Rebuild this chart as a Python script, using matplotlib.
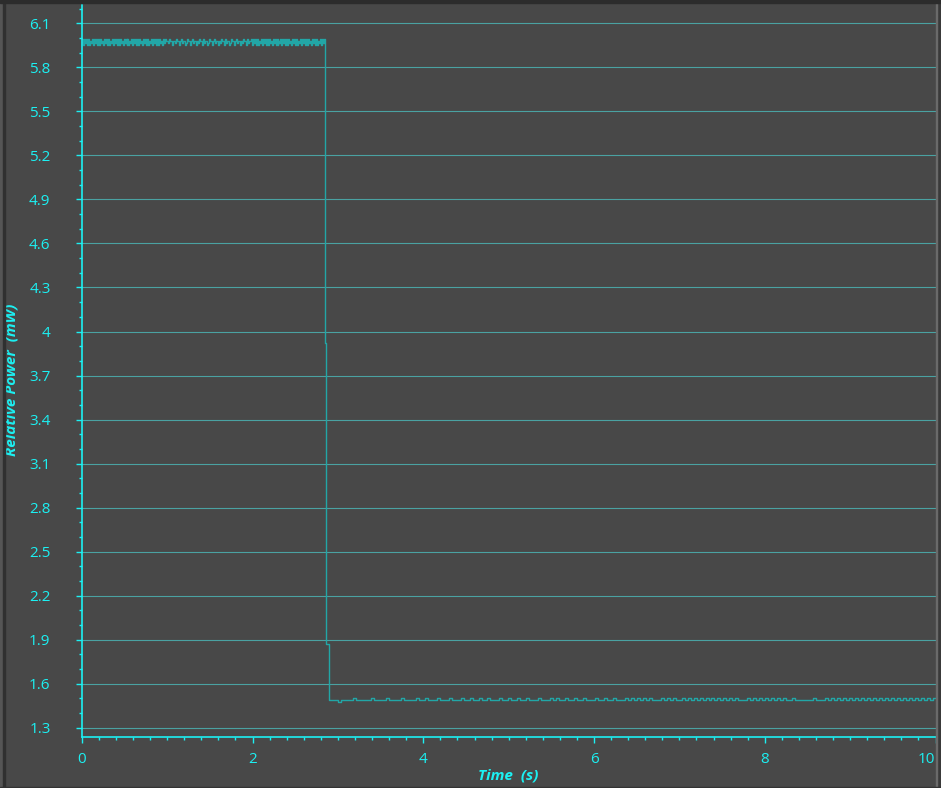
import numpy as np
import matplotlib
matplotlib.use("Agg")
import matplotlib.pyplot as plt
from matplotlib.ticker import MultipleLocator, FormatStrFormatter
from matplotlib.patches import Rectangle

# power level before the drop: one digit per sample, digit -> hi_levels
hi_levels = [5.955, 5.9685, 5.982, 5.9955, 6.009]
hi_samples = (
    "3031303021303130303120313030213031303031203130302130313030312031303021303130303120313"
    "2213220221322023122013220231220213220312201322023122021322031220132202312202132203122"
    "303130302130313030312031303021303130303120313030213031303031203130302130313"
)
t_drop = 2.851

# samples during the fall
drop_t = [2.851, 2.863, 2.891]
drop_v = [3.92, 1.874, 1.68]

# power level after the drop: digit -> lo_levels
lo_levels = [1.474, 1.487, 1.501]
lo_start = 2.898
lo_samples = (
    "111" "0" "1111" "2" "11111" "2" "1111" "2" "1111" "2" "1111" "2" "11" "2"
    "111" "2" "111" "2" "111" "2" "11" "2" "11" "2"
    "11" "2" "111" "2" "11" "2" "11" "2" "11" "2" "111" "2" "111" "2" "1" "2"
    "11" "2" "11" "2" "11" "2" "111" "2" "11" "2" "11" "2" "111" "2" "1" "2"
    "121212" "111" "21212" "11" "2121212121212121212" "111" "21212121212121"
    "1" "2" "1" "11111" "2" "111" "2121212121212121212121212121212121212"
)
t_end = 10.0

y_ticks = [1.3, 1.6, 1.9, 2.2, 2.5, 2.8, 3.1, 3.4, 3.7, 4.0, 4.3, 4.6, 4.9, 5.2, 5.5, 5.8, 6.1]
x_ticks = [0, 2, 4, 6, 8, 10]

hi_v = [hi_levels[int(c)] for c in hi_samples]
hi_t = np.linspace(0, t_drop, len(hi_v), endpoint=False)
lo_v = [lo_levels[int(c)] for c in lo_samples]
lo_t = np.linspace(lo_start, t_end, len(lo_v), endpoint=False)

t = np.concatenate([hi_t, drop_t, lo_t, [t_end]])
v = np.concatenate([hi_v, drop_v, lo_v, [lo_v[-1]]])

bg = "#484848"
cyan = "#1cf0f2"
line_col = "#22a6a6"

fig = plt.figure(figsize=(9.41, 7.88), dpi=100, facecolor=bg)
ax = fig.add_axes([81.8 / 941, 1 - 737 / 788, (935.5 - 81.8) / 941, (737 - 5) / 788])
ax.set_facecolor(bg)

ax.plot(t, v, drawstyle="steps-post", color=line_col, lw=1.0)

ax.set_xlim(0, 10)
ax.set_ylim(1.237, 6.225)
ax.set_yticks(y_ticks)
ax.set_xticks(x_ticks)
ax.yaxis.set_major_formatter(FormatStrFormatter("%g"))
ax.yaxis.set_minor_locator(MultipleLocator(0.1))
ax.xaxis.set_minor_locator(MultipleLocator(0.2))

ax.grid(axis="y", which="major", color="#4aa2a2", lw=0.8)
ax.set_axisbelow(True)

for s in ["top", "right"]:
    ax.spines[s].set_visible(False)
for s in ["left", "bottom"]:
    ax.spines[s].set_color(cyan)
    ax.spines[s].set_linewidth(1.2)

font = "Open Sans"
ax.tick_params(which="major", direction="out", length=4.5, width=1.0, color=cyan,
               labelcolor=cyan, labelsize=11)
ax.tick_params(which="minor", direction="out", length=2.3, width=1.0, color=cyan)
ax.tick_params(axis="y", which="major", pad=18)
ax.tick_params(axis="x", which="major", pad=6)
for lab in ax.get_xticklabels() + ax.get_yticklabels():
    lab.set_fontfamily(font)
# last x label sits inside the right edge
ax.get_xticklabels()[-1].set_horizontalalignment("right")

ax.set_xlabel("Time  (s)", color=cyan, fontsize=11, fontweight="bold",
              fontstyle="italic", family=font)
ax.set_ylabel("Relative Power  (mW)", color=cyan, fontsize=11, fontweight="bold",
              fontstyle="italic", family=font)
ax.xaxis.set_label_coords(0.5, -(769 - 737) / 732)
ax.yaxis.set_label_coords(-(81.8 - 19) / 853.7, (737 - 380) / 732)

# window frame
W, H = 941, 788
fig.patches.append(Rectangle((0, 0), 3 / W, 1, transform=fig.transFigure, color="#555555"))
fig.patches.append(Rectangle((3 / W, 0), 1.5 / W, 1, transform=fig.transFigure, color="#303030"))
fig.patches.append(Rectangle((937 / W, 0), 4 / W, 1, transform=fig.transFigure, color="#3a3a3a"))
fig.patches.append(Rectangle((936 / W, 0), 1 / W, 1, transform=fig.transFigure, color="#6a6a6a"))
fig.patches.append(Rectangle((0, 1 - 3 / H), 1, 3 / H, transform=fig.transFigure, color="#2c2c2c"))
fig.patches.append(Rectangle((0, 0), 1, 1.5 / H, transform=fig.transFigure, color="#333333"))

fig.savefig("out.png", dpi=100, facecolor=bg)
